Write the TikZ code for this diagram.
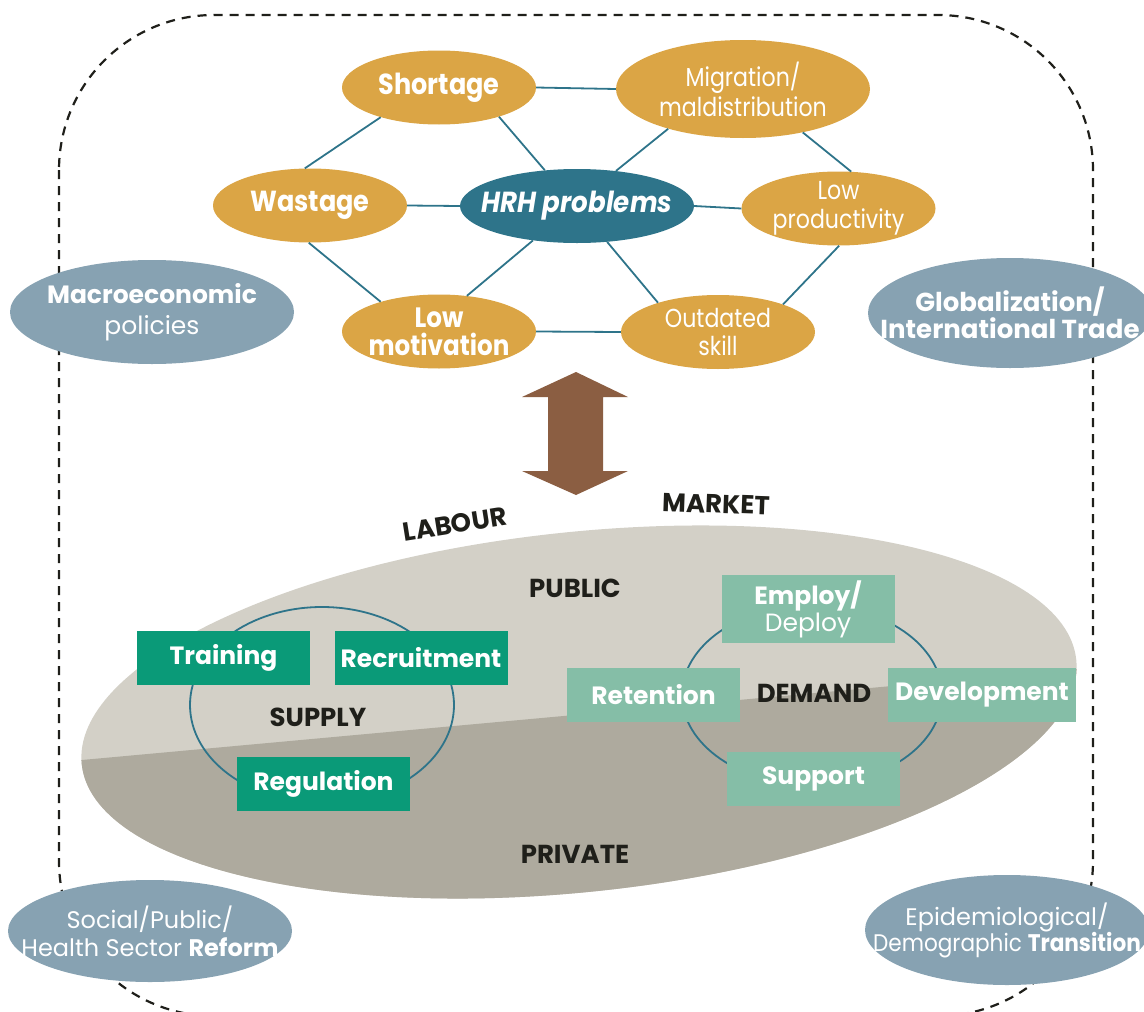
\documentclass[tikz,border=0pt]{standalone}
\usepackage{fontspec}
\setmainfont{Poppins}
\usetikzlibrary{shapes.geometric}
\definecolor{gold}{HTML}{DBA545}
\definecolor{teal}{HTML}{2E748A}
\definecolor{slate}{HTML}{87A2B2}
\definecolor{brown}{HTML}{8B5E42}
\definecolor{sand}{HTML}{D3D0C7}
\definecolor{stone}{HTML}{AEAA9E}
\definecolor{deepgreen}{HTML}{0A9A78}
\definecolor{mint}{HTML}{85BEA7}
\definecolor{ink}{HTML}{1F1F1A}
% condensed setting for the problem bubbles
\newcommand\cnd[1]{\scalebox{0.88}[1]{#1}}
\newcommand\cnl[1]{\scalebox{0.85}[1]{#1}}
\newcommand\fsz[2]{\fontsize{#1}{#2}\selectfont}
\tikzset{
  hexnode/.style={ellipse, fill=gold, inner sep=0pt, minimum width=194, minimum height=74},
  hexlbl/.style={text=white, align=center, inner sep=0pt},
  hrhnode/.style={ellipse, fill=teal, inner sep=0pt, minimum width=234, minimum height=74},
  link/.style={teal, line width=1.8pt},
  outer/.style={ellipse, fill=slate, inner sep=0pt, minimum width=284, minimum height=104},
  outerlbl/.style={text=white, align=center, inner sep=0pt, font=\fsz{24}{28}},
  boxdark/.style={fill=deepgreen, text=white, inner sep=0pt, minimum width=173, minimum height=54, font=\fsz{25}{28}\bfseries},
  boxlight/.style={fill=mint, text=white, inner sep=0pt, minimum width=173, minimum height=54, font=\fsz{25}{27}\bfseries, align=center},
  ring/.style={ellipse, draw=teal, line width=1.8pt, inner sep=0pt},
  tag/.style={text=ink, inner sep=0pt, font=\fsz{26}{28}\bfseries},
}
\begin{document}
\begin{tikzpicture}[x=1pt, y=-1pt]
\useasboundingbox (0,0) rectangle (1144,1012);

% dashed frame around everything (its lower edge runs just past the page)
\draw[ink, dash pattern=on 9pt off 7pt, line width=2.2pt, rounded corners=155pt]
  (59,15) rectangle (1093,1016);

% labour market ellipse, public (upper) and private (lower) parts
\begin{scope}
  \clip[rotate around={6:(579,712)}] (579,712) ellipse [x radius=500, y radius=180];
  \fill[sand] (60,500) rectangle (1100,920);
  \fill[stone] (60,762) -- (1100,667) -- (1100,920) -- (60,920) -- cycle;
\end{scope}

% double arrow between problems and market
\fill[brown] (576,372) -- (628,397) -- (603,397) -- (603,471) -- (628,471)
  -- (576,495) -- (522,471) -- (548,471) -- (548,397) -- (522,397) -- cycle;

% HRH problem network
\node[hrhnode, label={[hexlbl, font=\fsz{29}{30}\bfseries\itshape]center:{\scalebox{0.9}[1]{HRH problems}}}] (hrh) at (577,206) {};
\node[hexnode, label={[hexlbl, font=\fsz{29}{30}\bfseries]center:{\cnd{Shortage}}}] (short) at (439,87.5) {};
\node[hexnode, minimum width=254, minimum height=98, label={[hexlbl, font=\fsz{26}{30}]center:{\cnl{Migration/}\\\cnl{maldistribution}}}] (migr) at (743,89) {};
\node[hexnode, label={[hexlbl, font=\fsz{29}{30}\bfseries]center:{\cnd{Wastage}}}] (waste) at (310,205.5) {};
\node[hexnode, label={[hexlbl, font=\fsz{26}{29}]center:{\cnl{Low}\\\cnl{productivity}}}] (lowprod) at (838.5,208.5) {};
\node[hexnode, label={[hexlbl, font=\fsz{28}{28}\bfseries]center:{\cnd{Low}\\\cnd{motivation}}}] (lowmot) at (439,331.5) {};
\node[hexnode, label={[hexlbl, font=\fsz{26}{28}]center:{\cnl{Outdated}\\\cnl{skill}}}] (outdated) at (718,332) {};

\draw[link] (short.east) -- (migr.west);
\draw[link] (short.207) -- (waste.98);
\draw[link] (short.334) -- (hrh.132);
\draw[link] (migr.208) -- (hrh.42);
\draw[link] (migr.324) -- (lowprod.71);
\draw[link] (waste.east) -- (hrh.west);
\draw[link] (hrh.east) -- (lowprod.west);
\draw[link] (waste.268) -- (lowmot.153);
\draw[link] (hrh.218) -- (lowmot.52);
\draw[link] (hrh.310) -- (outdated.154);
\draw[link] (lowprod.271) -- (outdated.23);
\draw[link] (lowmot.east) -- (outdated.west);

% context factors
\node[outer, label={[outerlbl, font=\fsz{25}{31}]center:{{\bfseries Macroeconomic}\\policies}}] (macro) at (152,312) {};
\node[outer, minimum height=110, label={[outerlbl, font=\fsz{26}{27}\bfseries]center:{Globalization/\\International Trade}}] (global) at (1010,313) {};
\node[outer, minimum height=102, label={[outerlbl, font=\fsz{24}{28}]center:{Social/Public/\\Health Sector \textbf{Reform}}}] (reform) at (150,931) {};
\node[outer, minimum height=110, label={[outerlbl, font=\fsz{24}{26}]center:{Epidemiological/\\\scalebox{0.9}[1]{Demographic \textbf{Transition}}}}] (epi) at (1007,930) {};

% labour market words
\node[tag, rotate=9] (labour) at (455,524) {LABOUR};
\node[tag, rotate=-2] (market) at (716,504) {MARKET};
\node[tag] (public) at (575,588) {PUBLIC};
\node[tag] (private) at (575,854) {PRIVATE};

% supply cycle
\node[ring, minimum width=264, minimum height=196] (supplyring) at (322,705) {};
\node[tag] (supply) at (318,717) {SUPPLY};
\node[boxdark] (training) at (223.5,658) {Training};
\node[boxdark] (recruit) at (421,658) {Recruitment};
\node[boxdark] (regul) at (323.5,784) {Regulation};

% demand cycle
\node[ring, minimum width=260, minimum height=180] (demandring) at (812,695) {};
\node[tag] (demand) at (814,693) {DEMAND};
\node[boxlight, minimum height=68] (employ) at (808,609) {Employ/\\\mdseries Deploy};
\node[boxlight] (retain) at (653.5,694.5) {Retention};
\node[boxlight, minimum width=188] (develop) at (982,694.5) {Development};
\node[boxlight] (support) at (813.5,779) {Support};
\end{tikzpicture}
\end{document}
